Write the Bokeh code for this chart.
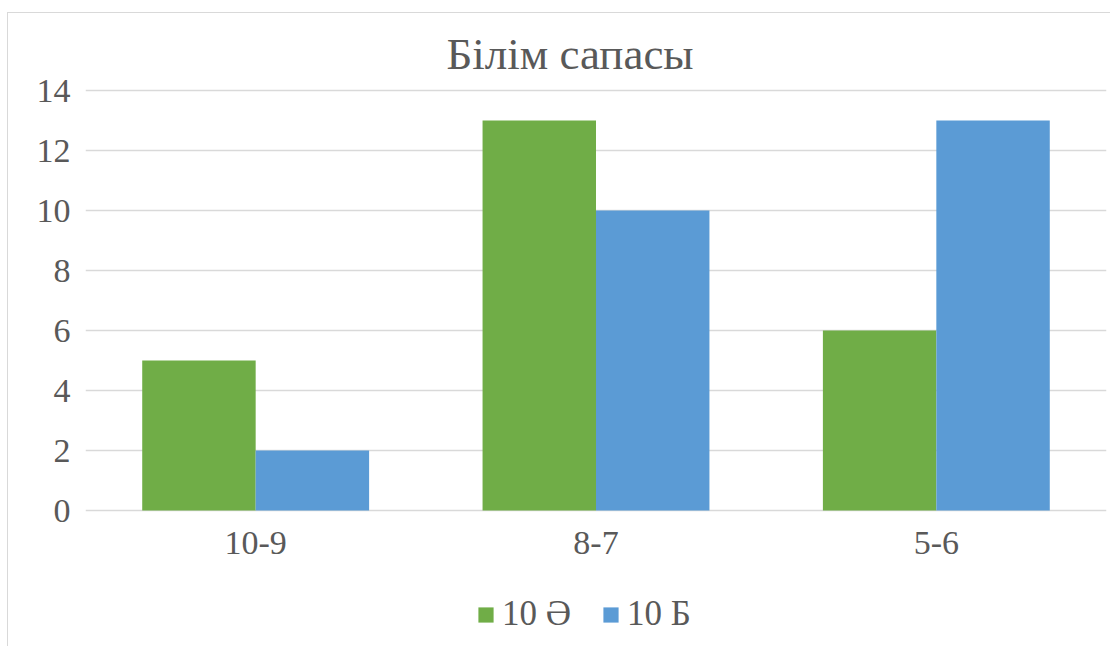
from bokeh.plotting import figure
from bokeh.models import FactorRange, Legend, LegendItem, Label
from bokeh.transform import dodge
from bokeh.models import ColumnDataSource
from bokeh.embed import file_html
from bokeh.resources import INLINE

categories = ["10-9", "8-7", "5-6"]
series_a = [5, 13, 6]    # 10 Ә
series_b = [2, 10, 13]   # 10 Б
series_names = ["10 Ә", "10 Б"]
colors = ["#70AD47", "#5B9BD5"]
y_ticks = [0, 2, 4, 6, 8, 10, 12, 14]
title_text = "Білім сапасы"

FONT = "Liberation Serif"
TXT = "#595959"

src = ColumnDataSource(dict(cat=categories, a=series_a, b=series_b))

# The frame spans the whole height (30 px per unit); category labels, legend and
# title sit inside it, above 14 and below 0.
p = figure(x_range=FactorRange(*categories), y_range=(-136 / 30, 14 + 90 / 30),
           width=1110, height=646, output_backend="svg", toolbar_location=None,
           min_border_left=85, min_border_right=4, min_border_top=0, min_border_bottom=0)

p.border_fill_alpha = 0
p.background_fill_alpha = 0
p.styles = {
    "background": "linear-gradient(#d9d9d9,#d9d9d9) 7px 12px / 1px 100% no-repeat, "
                  "linear-gradient(#d9d9d9,#d9d9d9) 7px 12px / 100% 1px no-repeat, white"
}

# title centred over the middle category (synthetic coordinate 1.5), nudged left
title = Label(x=len(categories) / 2, y=14 + 37 / 30, x_offset=-26, text=title_text,
              text_align="center", text_baseline="alphabetic",
              text_font=FONT, text_font_size="45px", text_color=TXT)
p.add_layout(title)

r1 = p.vbar(x=dodge("cat", -1/6, range=p.x_range), top="a", width=1/3, source=src,
            fill_color=colors[0], line_color=None)
r2 = p.vbar(x=dodge("cat", 1/6, range=p.x_range), top="b", width=1/3, source=src,
            fill_color=colors[1], line_color=None)

p.outline_line_color = None
p.xgrid.grid_line_color = None
p.ygrid.grid_line_color = "#d9d9d9"
p.ygrid.grid_line_width = 1.5
p.yaxis.ticker = y_ticks
p.xaxis.fixed_location = 0

for ax in (p.xaxis[0], p.yaxis[0]):
    ax.axis_line_color = None
    ax.major_tick_line_color = None
    ax.minor_tick_line_color = None
    ax.major_tick_out = 0
    ax.major_tick_in = 0
    ax.major_label_text_font = FONT
    ax.major_label_text_font_size = "34px"
    ax.major_label_text_color = TXT
p.yaxis.major_label_standoff = 15
p.xaxis.major_label_standoff = 21

legend = Legend(items=[LegendItem(label=series_names[0], renderers=[r1]),
                       LegendItem(label=series_names[1], renderers=[r2])],
                orientation="horizontal", location=(391, 12),
                glyph_width=19, glyph_height=19, label_standoff=7, spacing=30,
                padding=0, margin=0, border_line_color=None, background_fill_alpha=0,
                label_text_font=FONT, label_text_font_size="35px", label_text_color=TXT)
p.add_layout(legend, "center")

open("out.html", "w").write(file_html(p, INLINE))
